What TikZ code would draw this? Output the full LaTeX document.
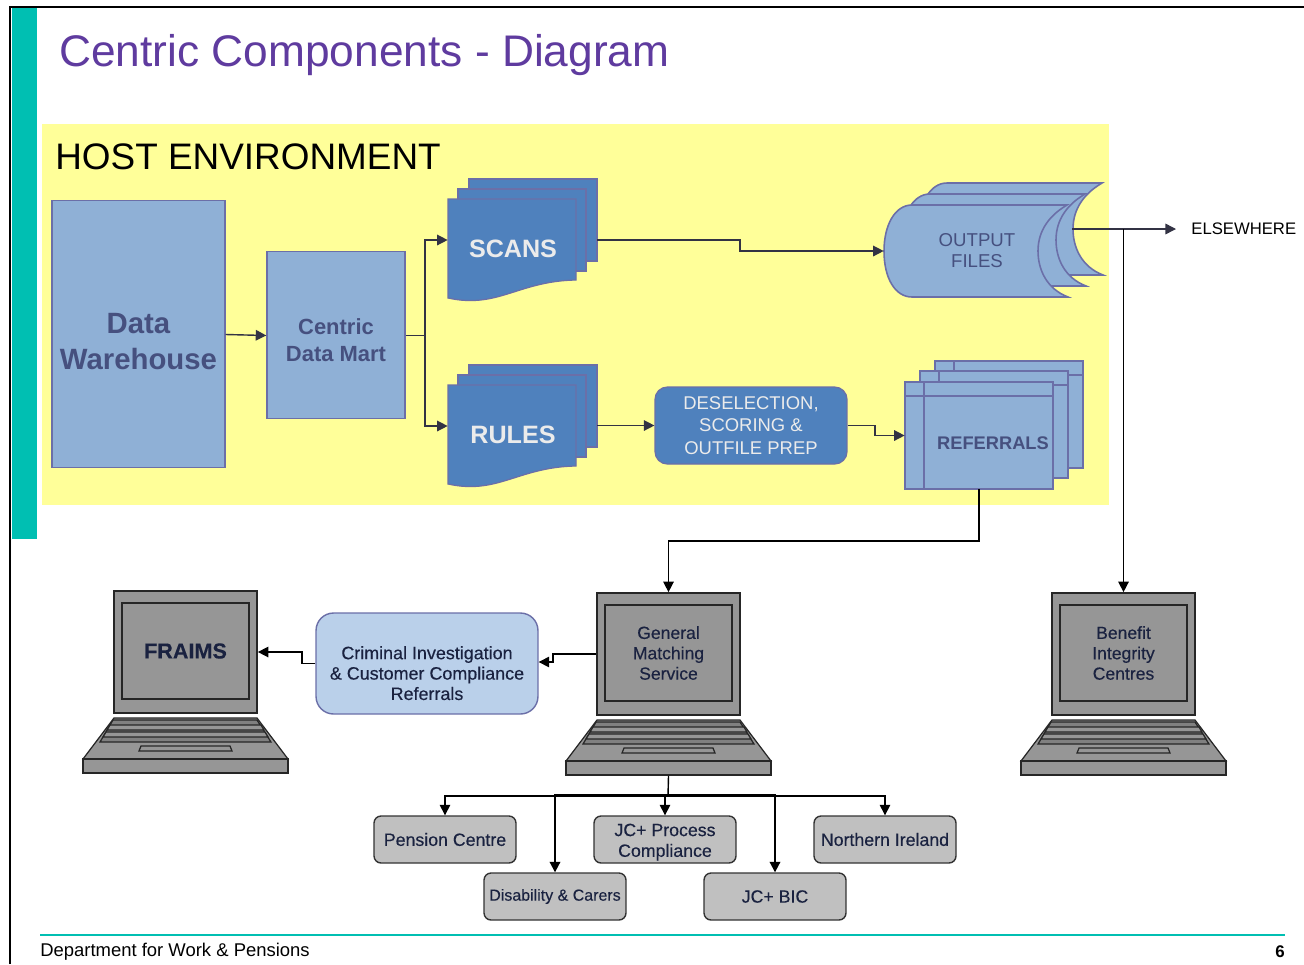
\documentclass[tikz,border=0pt]{standalone}
\usepackage{fontspec}
\setmainfont{Liberation Sans}
\newfontfamily\softbold[FakeBold=0.3]{Liberation Sans}
\usepackage{xcolor}
\usepackage{tikz}
\usetikzlibrary{shapes.geometric,arrows.meta}
\definecolor{hostyellow}{HTML}{FFFF99}
\definecolor{barteal}{HTML}{00BFB2}
\definecolor{titlepurple}{HTML}{5F3B9F}
\definecolor{palefill}{HTML}{8FB0D6}
\definecolor{capfill}{HTML}{BACDE6}
\definecolor{deepfill}{HTML}{4F81BD}
\definecolor{edgeblue}{HTML}{6B6FA8}
\definecolor{inkblue}{HTML}{46507F}
\definecolor{linkdark}{HTML}{333344}
\definecolor{screengray}{HTML}{969696}
\definecolor{officegray}{HTML}{C0C0C0}
\definecolor{softblue}{HTML}{BAD0EA}
\definecolor{boxink}{HTML}{1A2240}
\tikzset{
    pics/docstack/.style={code={
        \draw[page] (21,-20) -- ++(128,0) -- ++(0,82) -- ++(-128,0) -- cycle;
        \draw[page] (10,-10) -- ++(128,0) -- ++(0,82) -- ++(-128,0) -- cycle;
        \draw[page] (0,0) -- (128,0) -- (128,81) .. controls (70,82) and (50,110) .. (0,99) -- cycle;
        \node[anchor=center, minimum width=2.98cm, minimum height=1.64cm] (-box) at (74.5,41) {};
        \node[stacktext] (-label) at (65,50) {#1};
    }},
    pics/sheet/.style={code={
        \draw[paleshape] (0,0) rectangle (148,107);
        \draw[paleshape] (19,0) -- (19,107) (0,14) -- (148,14);
    }},
    pics/scroll/.style={code={
        \draw[paleshape] (28,0) -- (183,0) .. controls (161,13) and (154,30) .. (154,46)
            .. controls (154,65) and (163,84) .. (184,92) -- (28,92)
            .. controls (11,92) and (0,73) .. (0,46) .. controls (0,20) and (11,0) .. (28,0);
    }},
    pics/laptop/.style={code={
        \node[screenbox, minimum width=2.86cm, minimum height=2.44cm] (-screen) at (71.5,61) {};
        \node[screenbox, minimum width=2.54cm, minimum height=1.92cm, align=center] (-inner) at (71.5,60) {#1};
        \draw[laptopline, fill=screengray] (0,127) -- (143,127) -- (174,168) -- (-31,168) -- cycle;
        \draw[laptopline, fill=gray] (-1,129) -- (143,129) -- (157,151) -- (-14,151) -- cycle;
        \draw[laptopline, fill=screengray] (-4,134) -- (147,134) -- (150,139) -- (-7,139) -- cycle;
        \draw[laptopline, fill=screengray] (-8,141) -- (151,141) -- (154,146) -- (-11,146) -- cycle;
        \draw[laptopline, fill=screengray] (27,155) -- (116,155) -- (118,160) -- (25,160) -- cycle;
        \node[screenbox, minimum width=4.1cm, minimum height=0.28cm] (-base) at (71.5,175) {};
    }}
}
\begin{document}
\begin{tikzpicture}[
    x=0.02cm, y=-0.02cm,
    every node/.style={inner sep=0pt},
    page/.style={draw=edgeblue, fill=deepfill, line width=0.7pt},
    paleshape/.style={draw=edgeblue, fill=palefill, line width=0.9pt},
    stacktext/.style={text=white!92!black, font=\fontsize{14.3}{18}\selectfont\bfseries},
    palelabel/.style={text=inkblue, align=center},
    drum/.style={cylinder, shape border rotate=90, draw=edgeblue, line width=0.8pt,
        cylinder uses custom fill, cylinder body fill=palefill, cylinder end fill=capfill},
    screenbox/.style={draw=black!85, fill=screengray, line width=1pt, text=boxink,
        font=\fontsize{10}{11.6}\softbold},
    laptopline/.style={draw=black!85, line width=0.7pt},
    officebox/.style={draw=black!80, fill=officegray, rounded corners=4pt, line width=0.8pt,
        minimum width=2.84cm, minimum height=0.94cm, align=center, text=boxink,
        font=\fontsize{10.1}{11.8}\softbold},
    link/.style={draw=linkdark, line width=0.8pt, -{Triangle[length=6pt,width=6pt]}},
    plainlink/.style={draw=linkdark, line width=0.8pt},
    blacklink/.style={draw=black, line width=0.8pt, -{Triangle[length=6pt,width=6pt]}}
]
\useasboundingbox (0,0) rectangle (1304,964);
\fill[white] (0,0) rectangle (1304,964);
\draw[black, line width=0.8pt] (10,964) -- (10,7) -- (1304,7);
\fill[barteal] (12,8) rectangle (37,539);
\node[anchor=west, text=titlepurple, font=\fontsize{25.2}{30}\selectfont] (title) at (59,55) {Centric Components - Diagram};
\fill[hostyellow] (42,124) rectangle (1109,505);
\node[anchor=west, font=\fontsize{21}{25}\selectfont] (host) at (55,157) {HOST ENVIRONMENT};

\node[drum, minimum width=3.46cm, minimum height=5.34cm, aspect=0.18] (warehouse) at (138.5,334.5) {};
\node[drum, minimum width=2.76cm, minimum height=3.34cm, aspect=0.17] (mart) at (336,335.5) {};
\node[palelabel, font=\fontsize{16.7}{20.5}\selectfont\bfseries] (warehousetext) at (138.5,342) {Data\\Warehouse};
\node[palelabel, font=\fontsize{12.5}{15}\selectfont\bfseries] (marttext) at (336,340) {Centric\\Data Mart};

\pic (scans) at (448,199) {docstack=SCANS};
\pic (rules) at (448,385) {docstack=RULES};

\pic at (919,183) {scroll};
\pic at (902,194) {scroll};
\pic at (884,205) {scroll};
\node[palelabel, minimum width=3.72cm, minimum height=1.84cm, font=\fontsize{10.6}{12}\selectfont] (output) at (977,251) {OUTPUT\\FILES};
\coordinate (outputtip) at (1072,229);
\coordinate (elsejoin) at (1123.5,229);

\node[draw=edgeblue, fill=deepfill, rounded corners=7pt, line width=0.7pt, minimum width=3.84cm,
    minimum height=1.54cm, align=center, text=white!92!black,
    font=\fontsize{10.5}{12.9}\selectfont] (deselect) at (751,425.5) {DESELECTION,\\SCORING \&\\OUTFILE PREP};

\pic at (935,361) {sheet};
\pic at (920,371) {sheet};
\pic at (905,382) {sheet};
\node[minimum width=2.96cm, minimum height=2.14cm] (referrals) at (979,435.5) {};
\node[palelabel, font=\fontsize{10.4}{13}\selectfont\bfseries] (referralstext) at (993,443) {REFERRALS};

\node[anchor=west, inner xsep=0.3cm, font=\fontsize{9.5}{12}\selectfont] (elsewhere) at (1176,229) {ELSEWHERE};

\pic (fraims) at (114,591) {laptop={\fontsize{12.3}{14}\selectfont\bfseries FRAIMS}};
\pic (gms) at (597,593) {laptop={General\\Matching\\Service}};
\pic (bic) at (1052,593) {laptop={Benefit\\Integrity\\Centres}};

\node[draw=edgeblue, fill=softblue, rounded corners=10pt, line width=0.8pt, minimum width=4.44cm,
    minimum height=2.02cm, align=center, text=boxink,
    font=\fontsize{10.2}{11.6}\softbold] (criminal) at (427,663.5) {\mbox{}\\[6.8pt]Criminal Investigation\\\& Customer Compliance\\Referrals};

\node[officebox] (pension) at (445,839.5) {Pension Centre};
\node[officebox] (process) at (665,839.5) {\rule{0pt}{10pt}JC+ Process\\Compliance};
\node[officebox] (northern) at (885,839.5) {Northern Ireland};
\node[officebox, font=\fontsize{9.1}{11}\softbold] (disability) at (555,896.5) {Disability \& Carers};
\node[officebox] (jcbic) at (775,896.5) {JC+ BIC};

\draw[link] (warehouse.east) -- (mart.west);
\coordinate (martjoin) at (mart.east -| 425,0);
\draw[plainlink] (mart.east) -- (martjoin);
\draw[link] (martjoin) |- (scans-box.west);
\draw[link] (martjoin) |- (rules-box.west);
\draw[link] (scans-box.east) -- (740,240) -- (740,251) -- (output.west);
\draw[link] (rules-box.east |- deselect.west) -- (deselect.west);
\draw[link] (deselect.east) -- (875,425.5) -- (875,435.5) -- (referrals.west);
\draw[link] (outputtip) -- (elsewhere.west);
\draw[blacklink] (elsejoin) -- (bic-screen.north);
\draw[blacklink] (referrals.south) -- (979,541) -| (gms-screen.north);
\draw[blacklink] (gms-screen.west) -- (553,654) -- (553,662) -- (criminal.east |- 0,662);
\draw[blacklink] (criminal.west) -- (302,663.5) -- (302,652) -- (fraims-screen.east);
\coordinate (busjoin) at (668,796);
\draw[plainlink, draw=black] (gms-base.south) -- (busjoin);
\draw[blacklink] (busjoin) -| (pension.north);
\draw[blacklink] (busjoin) -| (northern.north);
\draw[blacklink] (busjoin -| process.north) -- (process.north);
\draw[blacklink, line width=1.1pt] (busjoin) ++(0,-1) -| (disability.north);
\draw[blacklink, line width=1.1pt] (busjoin) ++(0,-1) -| (jcbic.north);

\draw[barteal, line width=0.7pt] (40,935) -- (1285,935);
\node[anchor=west, font=\fontsize{10.5}{12}\selectfont] (footer) at (40,952) {Department for Work \& Pensions};
\node[anchor=east, font=\fontsize{9.6}{12}\selectfont\bfseries] (pagenum) at (1285,952) {6};
\end{tikzpicture}
\end{document}
